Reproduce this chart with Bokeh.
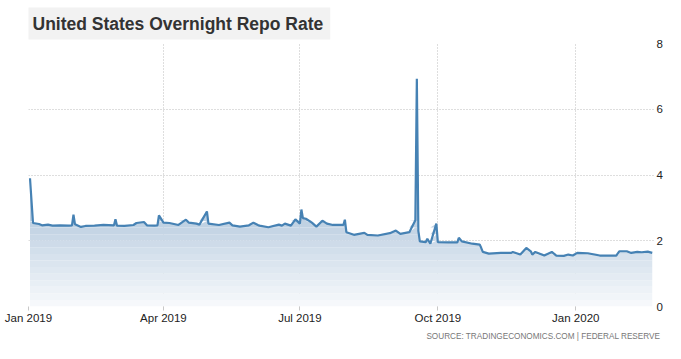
import numpy as np
import pandas as pd
from bokeh.plotting import figure
from bokeh.models import Range1d, FixedTicker, MonthsTicker, DatetimeTickFormatter, Title
from bokeh.embed import file_html
from bokeh.resources import INLINE

# ---------------- data ----------------
dates = [
    "2019-01-02", "2019-01-04", "2019-01-08", "2019-01-10", "2019-01-14", "2019-01-17", "2019-01-22",
    "2019-01-28", "2019-01-30", "2019-01-31",
    "2019-02-01", "2019-02-05", "2019-02-08", "2019-02-14", "2019-02-20", "2019-02-27", "2019-02-28",
    "2019-03-01", "2019-03-06", "2019-03-12", "2019-03-14", "2019-03-19", "2019-03-21", "2019-03-26",
    "2019-03-28", "2019-03-29",
    "2019-04-01", "2019-04-05", "2019-04-11", "2019-04-16", "2019-04-18", "2019-04-23", "2019-04-25",
    "2019-04-30",
    "2019-05-01", "2019-05-08", "2019-05-15", "2019-05-17", "2019-05-22", "2019-05-28", "2019-05-31",
    "2019-06-03", "2019-06-04", "2019-06-10", "2019-06-17", "2019-06-19", "2019-06-21", "2019-06-25",
    "2019-06-28",
    "2019-07-01", "2019-07-02", "2019-07-03", "2019-07-05", "2019-07-09", "2019-07-12", "2019-07-16",
    "2019-07-19", "2019-07-23", "2019-07-30", "2019-07-31",
    "2019-08-01", "2019-08-06", "2019-08-13", "2019-08-15", "2019-08-22", "2019-08-30",
    "2019-09-03", "2019-09-06", "2019-09-12", "2019-09-16", "2019-09-17", "2019-09-18", "2019-09-19",
    "2019-09-23", "2019-09-24", "2019-09-26", "2019-09-30",
    "2019-10-01", "2019-10-08", "2019-10-14", "2019-10-15", "2019-10-17", "2019-10-24", "2019-10-29",
    "2019-10-31",
    "2019-11-04", "2019-11-12", "2019-11-19", "2019-11-20", "2019-11-25", "2019-11-29",
    "2019-12-02", "2019-12-03", "2019-12-05", "2019-12-11", "2019-12-16", "2019-12-19", "2019-12-24",
    "2019-12-27", "2019-12-30",
    "2020-01-02", "2020-01-09", "2020-01-17", "2020-01-28", "2020-01-30",
    "2020-02-04", "2020-02-07", "2020-02-11", "2020-02-14", "2020-02-18", "2020-02-21",
]
rates = [
    3.90, 2.54, 2.51, 2.47, 2.49, 2.46, 2.47, 2.46, 2.47, 2.79,
    2.50, 2.42, 2.45, 2.46, 2.48, 2.47, 2.65,
    2.46, 2.45, 2.48, 2.54, 2.57, 2.47, 2.46, 2.47, 2.77,
    2.55, 2.54, 2.48, 2.64, 2.55, 2.52, 2.49, 2.89,
    2.52, 2.48, 2.55, 2.47, 2.43, 2.47, 2.55,
    2.48, 2.46, 2.41, 2.49, 2.46, 2.52, 2.46, 2.65,
    2.52, 2.95, 2.69, 2.67, 2.55, 2.43, 2.61, 2.52, 2.48, 2.48, 2.64,
    2.26, 2.18, 2.24, 2.18, 2.16, 2.23,
    2.31, 2.21, 2.26, 2.62, 6.93, 2.30, 1.98, 1.96, 2.06, 1.91, 2.52,
    1.96, 1.95, 1.95, 2.09, 1.98, 1.91, 1.88, 1.66,
    1.61, 1.63, 1.63, 1.66, 1.58, 1.78,
    1.68, 1.58, 1.66, 1.55, 1.66, 1.55, 1.54, 1.58, 1.55,
    1.63, 1.62, 1.55, 1.55, 1.68,
    1.68, 1.63, 1.66, 1.65, 1.67, 1.63,
]
y_ticks = [0, 2, 4, 6, 8]
title_text = "United States Overnight Repo Rate"
source_text = "SOURCE:  TRADINGECONOMICS.COM  |  FEDERAL  RESERVE"

x = pd.to_datetime(dates)
y = np.array(rates)

# ---------------- figure ----------------
p = figure(
    width=665, height=343,
    x_axis_type="datetime", y_axis_location="right",
    x_range=Range1d(pd.Timestamp("2019-01-01"), pd.Timestamp("2020-02-22 12:00")),
    y_range=Range1d(0, 8),
    output_backend="svg", toolbar_location=None,
    min_border_left=28, min_border_right=9, min_border_top=43, min_border_bottom=37,
)
p.outline_line_color = None
p.background_fill_color = "white"
p.border_fill_color = "white"

# title (grey box, top-left)
p.title.text = title_text
p.title.align = "left"
p.title.text_font = "Liberation Sans"
p.title.text_font_style = "bold"
p.title.text_font_size = "17.5px"
p.title.text_color = "#333333"
p.title.background_fill_color = "#f2f2f2"
p.title.padding = dict(left=4, right=7, top=6, bottom=6)
p.title.standoff = 8
p.title.offset = 0

# gradient-like area fill built from stacked bands
bottom_rgb = np.array([248, 250, 252])
top_rgb = np.array([190, 208, 226])
edges = list(np.arange(0, 2.8, 0.2)) + [7.5]
for lo, hi in zip(edges[:-1], edges[1:]):
    mid = min((lo + hi) / 2, 2.6)
    t = mid / 2.6
    c = tuple(int(round(v)) for v in bottom_rgb + t * (top_rgb - bottom_rgb))
    top = np.clip(y, lo, hi)
    p.varea(x=x, y1=np.full(len(y), lo), y2=top, fill_color="#%02x%02x%02x" % c, fill_alpha=1.0)

p.line(x, y, line_color="#4682b4", line_width=2.2)

# axes
p.xaxis.ticker = MonthsTicker(months=[0, 3, 6, 9])
fmt = "%b %Y"
p.xaxis.formatter = DatetimeTickFormatter(days=fmt, months=fmt, years=fmt)
p.yaxis.ticker = FixedTicker(ticks=y_ticks)
for ax in (p.xaxis[0], p.yaxis[0]):
    ax.axis_line_color = None
    ax.minor_tick_line_color = None
    ax.major_label_text_font = "Liberation Sans"
    ax.major_label_text_font_size = "11.5px"
    ax.major_label_text_color = "#222222"
p.xaxis.major_tick_line_color = "#c8c8c8"
p.xaxis.major_tick_in = 0
p.xaxis.major_tick_out = 4
p.xaxis.major_label_standoff = 1
p.yaxis.major_tick_line_color = None
p.yaxis.major_tick_in = 0
p.yaxis.major_tick_out = 0
p.yaxis.major_label_standoff = 2

for g in (p.xgrid[0], p.ygrid[0]):
    g.grid_line_color = "#bdbdbd"
    g.grid_line_dash = "1 2"
    g.grid_line_width = 1
p.ygrid.ticker = FixedTicker(ticks=y_ticks)

# source note (bottom-right)
p.add_layout(Title(
    text=source_text, align="right", text_font="Liberation Sans", text_font_size="8.2px",
    text_font_style="normal", text_color="#777777", standoff=6, offset=-15,
), "below")

open("out.html", "w").write(file_html(p, INLINE))
